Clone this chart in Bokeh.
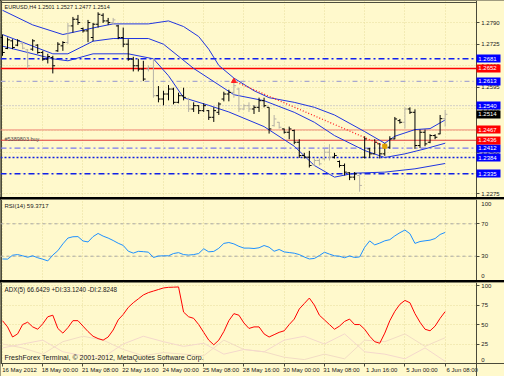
from bokeh.plotting import figure
from bokeh.models import Range1d, FixedTicker, Span, Label, ColumnDataSource, PrintfTickFormatter, LinearAxis
from bokeh.layouts import column
from bokeh.embed import file_html
from bokeh.resources import INLINE

# ---------------- data ----------------
symbol_title = "EURUSD,H4 1.2501 1.2527 1.2477 1.2514"
rsi_title = "RSI(14) 59.3717"
adx_title = "ADX(5) 66.6429 +DI:33.1240 -DI:2.8248"
footer_text = "FreshForex Terminal, \u00a9 2001-2012, MetaQuotes Software Corp."
order_text = "#5389803 buy"

date_idx = [0, 8, 16, 24, 32, 40, 48, 56, 64, 72, 80, 88]
date_labels = ["16 May 2012", "18 May 00:00", "21 May 08:00", "22 May 16:00",
               "24 May 00:00", "25 May 08:00", "28 May 16:00", "30 May 00:00",
               "31 May 08:00", "1 Jun 16:00", "5 Jun 00:00", "6 Jun 08:00"]

price_ticks = [1.2790, 1.2725, 1.2660, 1.2595, 1.2530, 1.2465, 1.2400, 1.2335, 1.2275]

bar_open = [1.2745, 1.2712, 1.2735, 1.2722, 1.2728, 1.2708, 1.2710, 1.2722, 1.2700, 1.2680,
            1.2685, 1.2705, 1.2720, 1.2730, 1.2780, 1.2800, 1.2772, 1.2765, 1.2745, 1.2785,
            1.2812, 1.2795, 1.2790, 1.2780, 1.2745, 1.2725, 1.2680, 1.2660, 1.2650, 1.2650,
            1.2655, 1.2570, 1.2560, 1.2575, 1.2590, 1.2550, 1.2570, 1.2560, 1.2530, 1.2540,
            1.2525, 1.2525, 1.2505, 1.2520, 1.2560, 1.2575, 1.2580, 1.2590, 1.2530, 1.2540,
            1.2530, 1.2535, 1.2555, 1.2535, 1.2480, 1.2490, 1.2470, 1.2460, 1.2465, 1.2430,
            1.2390, 1.2385, 1.2362, 1.2375, 1.2380, 1.2400, 1.2385, 1.2372, 1.2360, 1.2338,
            1.2325, 1.2330, 1.2385, 1.2410, 1.2395, 1.2425, 1.2395, 1.2415, 1.2440, 1.2495,
            1.2490, 1.2530, 1.2520, 1.2420, 1.2460, 1.2430, 1.2450, 1.2455, 1.2501]
bar_high = [1.2754, 1.2745, 1.2740, 1.2740, 1.2731, 1.2710, 1.2740, 1.2725, 1.2705, 1.2696,
            1.2690, 1.2731, 1.2734, 1.2789, 1.2807, 1.2813, 1.2775, 1.2798, 1.2789, 1.2821,
            1.2818, 1.2804, 1.2804, 1.2783, 1.2775, 1.2740, 1.2687, 1.2681, 1.2675, 1.2661,
            1.2681, 1.2599, 1.2585, 1.2602, 1.2594, 1.2579, 1.2594, 1.2564, 1.2550, 1.2541,
            1.2547, 1.2527, 1.2535, 1.2550, 1.2582, 1.2588, 1.2617, 1.2594, 1.2544, 1.2550,
            1.2541, 1.2564, 1.2564, 1.2535, 1.2512, 1.2491, 1.2471, 1.2477, 1.2468, 1.2439,
            1.2398, 1.2404, 1.2381, 1.2381, 1.2410, 1.2424, 1.2398, 1.2375, 1.2366, 1.2340,
            1.2340, 1.2330, 1.2448, 1.2413, 1.2439, 1.2427, 1.2427, 1.2448, 1.2506, 1.2500,
            1.2535, 1.2535, 1.2529, 1.2468, 1.2468, 1.2454, 1.2454, 1.2512, 1.2527]
bar_low = [1.2690, 1.2710, 1.2710, 1.2719, 1.2710, 1.2652, 1.2705, 1.2696, 1.2675, 1.2667,
           1.2637, 1.2702, 1.2705, 1.2725, 1.2760, 1.2783, 1.2760, 1.2731, 1.2734, 1.2775,
           1.2789, 1.2783, 1.2783, 1.2740, 1.2716, 1.2675, 1.2643, 1.2643, 1.2614, 1.2643,
           1.2564, 1.2550, 1.2541, 1.2556, 1.2544, 1.2547, 1.2556, 1.2521, 1.2521, 1.2515,
           1.2521, 1.2497, 1.2491, 1.2512, 1.2553, 1.2553, 1.2564, 1.2521, 1.2527, 1.2521,
           1.2515, 1.2521, 1.2535, 1.2456, 1.2477, 1.2471, 1.2456, 1.2439, 1.2424, 1.2383,
           1.2381, 1.2354, 1.2360, 1.2360, 1.2375, 1.2375, 1.2381, 1.2354, 1.2330, 1.2316,
           1.2316, 1.2281, 1.2381, 1.2383, 1.2395, 1.2381, 1.2389, 1.2410, 1.2439, 1.2486,
           1.2471, 1.2515, 1.2410, 1.2413, 1.2418, 1.2427, 1.2439, 1.2454, 1.2477]
bar_close = [1.2700, 1.2738, 1.2715, 1.2735, 1.2713, 1.2660, 1.2735, 1.2700, 1.2680, 1.2688,
             1.2660, 1.2725, 1.2730, 1.2780, 1.2800, 1.2790, 1.2765, 1.2790, 1.2785, 1.2815,
             1.2795, 1.2790, 1.2798, 1.2745, 1.2725, 1.2680, 1.2660, 1.2650, 1.2620, 1.2655,
             1.2570, 1.2560, 1.2575, 1.2590, 1.2550, 1.2570, 1.2565, 1.2530, 1.2540, 1.2525,
             1.2540, 1.2505, 1.2525, 1.2545, 1.2575, 1.2580, 1.2600, 1.2530, 1.2540, 1.2530,
             1.2535, 1.2555, 1.2540, 1.2470, 1.2500, 1.2475, 1.2460, 1.2470, 1.2430, 1.2390,
             1.2385, 1.2360, 1.2375, 1.2365, 1.2400, 1.2385, 1.2390, 1.2360, 1.2340, 1.2325,
             1.2335, 1.2300, 1.2440, 1.2395, 1.2430, 1.2395, 1.2420, 1.2440, 1.2500, 1.2490,
             1.2530, 1.2520, 1.2420, 1.2460, 1.2425, 1.2450, 1.2445, 1.2501, 1.2514]
bar_shade = list("kkkkggkkkkkkkgkkkkkkkkgkkkkkkgg"
                 "kkkkkkgkkkkkkkkggggkkkkgg"
                 "kkkkkkggggkkkkkgkkkkkkkkgkkkkkkkg")

bb_upper_idx = [0, 6, 12, 19, 22, 29, 33, 36, 39, 41, 43, 46, 50, 53, 58, 62, 66, 72, 76, 78, 82, 85, 88]
bb_upper = [1.2827, 1.2783, 1.2754, 1.2777, 1.2786, 1.2786, 1.2795, 1.2778, 1.2748, 1.2710,
            1.2661, 1.2623, 1.2585, 1.2564, 1.2550, 1.2535, 1.2512, 1.2462, 1.2427, 1.2448,
            1.2468, 1.2471, 1.2497]
bb_mid_idx = [0, 10, 13, 18, 22, 29, 32, 38, 46, 52, 58, 62, 66, 72, 76, 80, 84, 88]
bb_mid = [1.2754, 1.2696, 1.2696, 1.2734, 1.2742, 1.2742, 1.2725, 1.2652, 1.2573, 1.2555,
          1.2520, 1.2490, 1.2450, 1.2405, 1.2384, 1.2395, 1.2410, 1.2427]
bb_low_idx = [0, 10, 13, 18, 25, 30, 33, 36, 41, 45, 52, 58, 62, 66, 70, 76, 82, 88]
bb_low = [1.2719, 1.2681, 1.2675, 1.2696, 1.2696, 1.2681, 1.2630, 1.2564, 1.2541, 1.2521,
          1.2477, 1.2418, 1.2360, 1.2325, 1.2337, 1.2340, 1.2350, 1.2366]

trade_idx = [46, 76]
trade_price = [1.2614, 1.2418]

level_prices = [1.2681, 1.2652, 1.2613, 1.2540, 1.2467, 1.2436, 1.2412, 1.2384, 1.2335]
level_colors = ["#1020F0", "#FF0000", "#A8A8D0", "#A8A8C0", "#F08878", "#E03838", "#7878F0", "#1020E0", "#1020E8"]
level_dashes = ["6 3 2 3", "solid", "5 3 1 3 1 3", "1 2", "solid", "solid", "6 3 2 3", "2 2", "6 3 2 3"]
level_widths = [1.5, 1.5, 1.3, 1.0, 1.0, 1.2, 1.3, 1.3, 1.5]

tag_blue = [1.2681, 1.2613, 1.2540, 1.2412, 1.2384, 1.2335]
tag_red = [1.2652, 1.2467, 1.2436]
tag_black = [1.2514]

rsi = [26.6, 26.4, 31.2, 32.0, 30.5, 28.7, 30.5, 28.1, 26.3, 24.2,
       31.4, 36.8, 45.2, 52.4, 54.0, 54.2, 48.8, 47.6, 54.2, 58.1,
       54.8, 52.4, 49.4, 46.0, 43.3, 36.2, 33.8, 36.0, 35.6, 35.0,
       28.4, 30.2, 30.5, 30.5, 33.3, 34.4, 32.0, 31.4, 32.0, 33.3,
       39.2, 35.4, 35.9, 39.8, 45.8, 46.9, 45.2, 42.2, 40.0, 40.0,
       39.5, 40.4, 43.2, 41.1, 36.1, 38.3, 35.3, 34.5, 33.7, 32.0,
       29.0, 26.6, 27.2, 30.8, 34.9, 32.6, 30.5, 29.9, 28.1, 30.3,
       28.4, 29.1, 41.0, 48.9, 44.0, 46.2, 49.0, 50.4, 55.1, 59.0,
       62.3, 57.8, 45.8, 48.1, 49.0, 49.8, 51.8, 56.8, 59.37]
rsi_levels = [70, 30]
rsi_ticks = [70, 30]
rsi_edge_ticks = [95, 6]
rsi_edge_labels = ["100", "0"]

adx = [55, 47, 34, 38, 50, 53, 47, 44, 51, 60,
       62, 45, 39, 46, 55, 55, 48, 41, 35, 32,
       30, 34, 43, 56, 63, 72, 78, 83, 88, 91,
       93, 95, 97, 97.8, 98, 98.3, 66, 60, 58, 50,
       40, 30, 24, 30, 41, 55, 64, 62, 52, 45,
       47, 47, 38, 34, 37, 40, 42, 50, 57, 70,
       77, 84, 75, 62, 56, 50, 44, 48, 54, 57,
       50, 50, 44, 35, 28, 26, 39, 55, 67, 76,
       81, 78, 64, 53, 44, 42, 48, 58, 66.64]
di_idx = [0, 4, 8, 12, 16, 20, 24, 28, 32, 36, 40, 44, 48, 52, 56, 60, 64, 68, 72, 76, 80, 84, 88]
plus_di = [25, 20, 12, 28, 35, 30, 18, 10, 14, 12, 10, 30, 18, 15, 8, 5, 12, 6, 30, 28, 38, 22, 33.1]
minus_di = [20, 25, 30, 15, 10, 8, 25, 35, 28, 22, 26, 12, 18, 15, 30, 35, 25, 38, 15, 12, 6, 20, 2.8]
adx_ticks = [100, 75, 50, 25]
adx_edge_ticks = [5]
adx_edge_labels = ["0"]

# ---------------- style / layout ----------------
FONT = "Liberation Sans"
BG = "#FFF9CC"
GRID = "#E6DC9C"
FRAME = "#4A4A3A"
BAND = "#2035E0"
W = 504
X0, AX, X1 = -0.4, 94.2, 99.8      # frame spans the whole canvas; price scale drawn at AX
DATE_SHIFT = 3.4

xr = Range1d(X0, X1)


def style_axis(ax, size="6px"):
    ax.major_label_text_font = FONT
    ax.major_label_text_font_size = size
    ax.major_label_text_color = "#202020"
    ax.minor_tick_line_color = None
    ax.major_tick_in = 0


def make(height, y0, y1):
    p = figure(width=W, height=height, x_range=xr, y_range=Range1d(y0, y1),
               output_backend="svg", toolbar_location=None,
               x_axis_location="below", y_axis_location="right",
               min_border_left=0, min_border_right=0, min_border_top=0, min_border_bottom=0,
               background_fill_color=BG, border_fill_color=BG, outline_line_color=None)
    p.xaxis[0].visible = False
    p.xgrid.ticker = FixedTicker(ticks=date_idx)
    for g in (p.xgrid, p.ygrid):
        g.grid_line_color = GRID
        g.grid_line_dash = "1 2"
    ax = p.yaxis[0]
    ax.fixed_location = AX
    style_axis(ax)
    ax.axis_line_color = FRAME
    ax.major_tick_line_color = FRAME
    ax.major_tick_out = 3
    ax.major_label_standoff = 2
    # plain background over the scale area (hides grid / level lines there)
    p.quad(left=[AX], right=[X1], bottom=[y0], top=[y1], fill_color=BG, line_color=None)
    # left window border
    p.add_layout(Span(location=X0 + 0.2, dimension="height", line_color=FRAME, line_width=1, level="underlay"))
    return p


def hline(p, loc, color, dash="solid", width=1.0):
    p.add_layout(Span(location=loc, dimension="width", line_color=color, line_dash=dash,
                      line_width=width, level="underlay"))


def edge_axis(p, ticks, labels):
    ax = LinearAxis(fixed_location=AX, ticker=FixedTicker(ticks=ticks),
                    major_label_overrides={t: s for t, s in zip(ticks, labels)})
    style_axis(ax)
    ax.axis_line_color = None
    ax.major_tick_line_color = None
    ax.major_tick_out = 3
    ax.major_label_standoff = 2
    p.add_layout(ax, "right")


def tag_axis(p, prices, color):
    ax = LinearAxis(fixed_location=AX, ticker=FixedTicker(ticks=prices),
                    formatter=PrintfTickFormatter(format="%.4f"))
    style_axis(ax)
    ax.axis_line_color = None
    ax.major_tick_line_color = color
    ax.major_tick_line_width = 8
    ax.major_tick_out = 24
    ax.major_label_standoff = -22
    ax.major_label_text_color = "#FFFFFF"
    p.add_layout(ax, "right")


def corner_label(p, x, y, text, baseline="top", dx=0, dy=0, color="#202020", size="6px"):
    p.add_layout(Label(x=x, y=y, x_offset=dx, y_offset=dy, text=text, text_font=FONT,
                       text_font_size=size, text_color=color, text_align="left",
                       text_baseline=baseline))


# ---------------- main price window ----------------
P_TOP, P_BOT = 1.28564, 1.22637
p1 = make(197, P_BOT, P_TOP)
p1.yaxis[0].ticker = FixedTicker(ticks=price_ticks)
p1.yaxis[0].formatter = PrintfTickFormatter(format="%.4f")
hline(p1, 1.28504, FRAME)  # top window border

for lp, lc, ld, lw in zip(level_prices, level_colors, level_dashes, level_widths):
    hline(p1, lp, lc, ld, lw)

p1.line(bb_upper_idx, bb_upper, line_color=BAND, line_width=1)
p1.line(bb_mid_idx, bb_mid, line_color=BAND, line_width=1)
p1.line(bb_low_idx, bb_low, line_color=BAND, line_width=1)

n = len(bar_close)
xs = list(range(n))
src = ColumnDataSource(dict(
    x=xs, xl=[i - 0.45 for i in xs], xr=[i + 0.45 for i in xs],
    o=bar_open, h=bar_high, l=bar_low, c=bar_close,
    col=["#000000" if s == "k" else "#B6B2A6" for s in bar_shade]))
p1.segment(x0="x", y0="l", x1="x", y1="h", line_color="col", line_width=1, source=src)
p1.segment(x0="xl", y0="o", x1="x", y1="o", line_color="col", line_width=1, source=src)
p1.segment(x0="x", y0="c", x1="xr", y1="c", line_color="col", line_width=1, source=src)

p1.line(trade_idx, trade_price, line_color="#FF2020", line_dash="1 2", line_width=1.3)
p1.scatter([trade_idx[0]], [trade_price[0]], marker="triangle", size=5, color="#FF2020")
p1.scatter([trade_idx[1]], [trade_price[1]], marker="square", size=4, color="#E0A000")

tag_axis(p1, tag_blue, "#0000FF")
tag_axis(p1, tag_red, "#FF0000")
tag_axis(p1, tag_black, "#000000")

corner_label(p1, X0, 1.28504, symbol_title, dx=4, dy=-2, size="5.5px")
corner_label(p1, X0, level_prices[5], order_text, baseline="middle", dx=4, dy=1,
             color="#505050", size="5.5px")

# ---------------- RSI window ----------------
p2 = make(81, 0, 100)
p2.yaxis[0].ticker = FixedTicker(ticks=rsi_ticks)
edge_axis(p2, rsi_edge_ticks, rsi_edge_labels)
for lv in rsi_levels:
    hline(p2, lv, "#A8A8A8", "3 3", 1)
p2.line(xs, rsi, line_color="#1E90FF", line_width=1)
corner_label(p2, X0, 100, rsi_title, dx=4, dy=-3)

# ---------------- ADX window (with time scale below it) ----------------
A_BOT = -16.7
p3 = make(94, A_BOT, 104)
p3.yaxis[0].ticker = FixedTicker(ticks=adx_ticks)
edge_axis(p3, adx_edge_ticks, adx_edge_labels)
p3.quad(left=[X0], right=[X1], bottom=[A_BOT], top=[0], fill_color=BG, line_color=None)

xa = LinearAxis(fixed_location=0, ticker=FixedTicker(ticks=date_idx),
                major_label_overrides={i: "" for i in date_idx})
style_axis(xa)
xa.axis_line_color = FRAME
xa.major_tick_line_color = FRAME
xa.major_tick_out = 3
xa.major_label_standoff = 1
p3.add_layout(xa, "below")

shifted = [i + DATE_SHIFT for i in date_idx]
xl = LinearAxis(fixed_location=0, ticker=FixedTicker(ticks=shifted),
                major_label_overrides={t: s for t, s in zip(shifted, date_labels)})
style_axis(xl)
xl.axis_line_color = None
xl.major_tick_line_color = None
xl.major_tick_out = 3
xl.major_label_standoff = 1
p3.add_layout(xl, "below")

p3.line(di_idx, plus_di, line_color="#F2DCC4", line_width=1)
p3.line(di_idx, minus_di, line_color="#F4D8CC", line_width=1)
p3.line(xs, adx, line_color="#FF0000", line_width=1)
corner_label(p3, X0, 104, adx_title, dx=4, dy=-3, size="6.3px")
corner_label(p3, X0, 0, footer_text, baseline="bottom", dx=4, dy=2, size="7px")

layout = column(p1, p2, p3, spacing=2, background="#000000")

open("out.html", "w").write(file_html(layout, INLINE))
